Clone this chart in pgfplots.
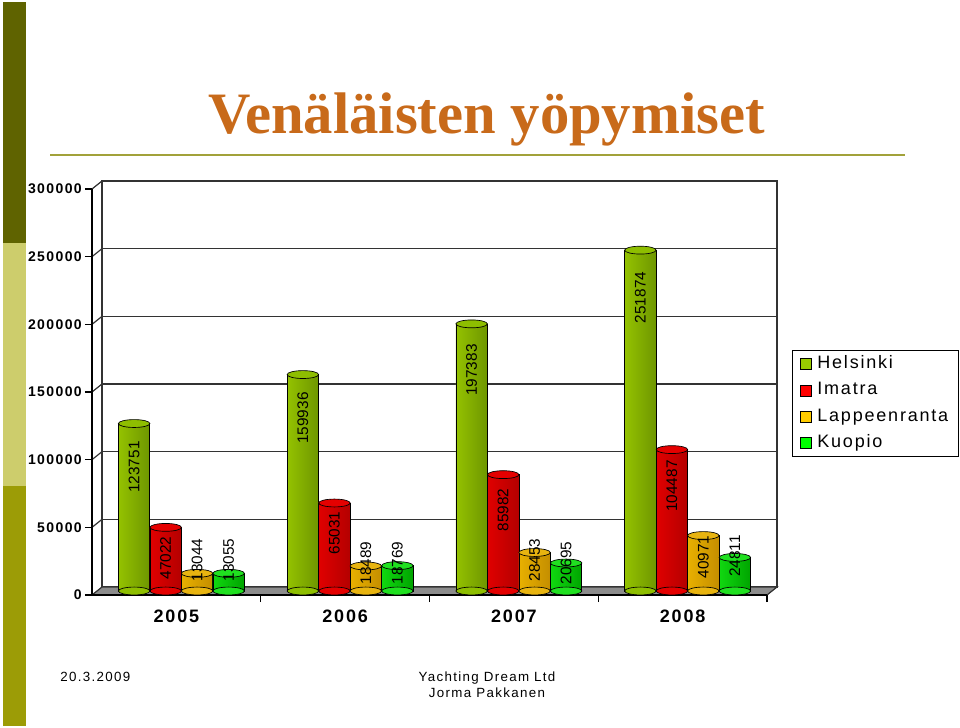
\documentclass[border=0pt]{standalone}
\usepackage{fontspec}
\usepackage{pgfplots}
\usepackage{pgfplotstable}
\pgfplotsset{compat=1.18}
\setmainfont{Liberation Sans}
\newfontfamily\titlefont{Liberation Serif}
\newfontfamily\spfont[LetterSpace=10]{Liberation Sans}

\definecolor{stripdark}{HTML}{5F6300}
\definecolor{striplight}{HTML}{CDCD6C}
\definecolor{stripmid}{HTML}{9C9C06}
\definecolor{titlecol}{HTML}{C86A1A}
\definecolor{titleline}{HTML}{A2A23A}
\definecolor{gridcol}{HTML}{333333}
\definecolor{floorgray}{HTML}{8C8C8C}
% Helsinki
\definecolor{helL}{HTML}{94C200}\definecolor{helM}{HTML}{B6DE18}\definecolor{helR}{HTML}{6E9600}\definecolor{helT}{HTML}{8EBE00}\definecolor{helG}{HTML}{99CC00}
% Imatra
\definecolor{imaL}{HTML}{E00000}\definecolor{imaM}{HTML}{FF3030}\definecolor{imaR}{HTML}{B40000}\definecolor{imaT}{HTML}{E40000}\definecolor{imaG}{HTML}{FF0000}
% Lappeenranta
\definecolor{lapL}{HTML}{E8B000}\definecolor{lapM}{HTML}{FFD840}\definecolor{lapR}{HTML}{C48E00}\definecolor{lapT}{HTML}{E8B410}\definecolor{lapG}{HTML}{FFCC00}
% Kuopio
\definecolor{kuoL}{HTML}{10D810}\definecolor{kuoM}{HTML}{50FF50}\definecolor{kuoR}{HTML}{00A400}\definecolor{kuoT}{HTML}{20E020}\definecolor{kuoG}{HTML}{00FF00}

\pgfplotstableread{
x      y       z  ly
-0.280 123751  0  91626
0.720  159936  0  127830
1.720  197383  0  163297
2.720  251874  0  216867
}\hel
\pgfplotstableread{
x      y       z  ly
-0.093 47022   0  24384
0.907  65031   0  42856
1.907  85982   0  59851
2.907  104487  0  77585
}\ima
\pgfplotstableread{
x      y       z  ly
0.093  13044   0  22906
1.093  18489   0  20689
2.093  28453   0  22906
3.093  40971   0  25123
}\lap
\pgfplotstableread{
x      y       z  ly
0.280  13055   0  22906
1.280  18769   0  20689
2.280  20695   0  20689
3.280  24811   0  25862
}\kuo

\newcommand{\tickf}{\spfont\bfseries\fontsize{10.5}{12}\selectfont}
\newcommand{\catf}{\spfont\bfseries\fontsize{13.5}{15}\selectfont}
\newcommand{\legf}{\spfont\fontsize{13.5}{15}\selectfont}
\newcommand{\lblf}{\fontsize{11.5}{13}\selectfont}
\newcommand{\footf}{\spfont\fontsize{10}{12}\selectfont}

\pgfplotsset{
  cyl/.style n args={3}{forget plot, ybar, bar width=0.186, bar shift=0pt,
     draw=black, line width=0.5pt, left color=#1, middle color=#2, right color=#3},
  cap/.style={forget plot, only marks, mark=*, mark size=11.8pt,
     mark options={yscale=0.25, fill=#1, draw=black, line width=0.5pt}},
  lbl/.style={forget plot, draw=none, no markers, nodes near coords,
     point meta=explicit symbolic,
     nodes near coords style={rotate=90, anchor=center, inner sep=0pt, font=\lblf, text=black}},
  panel/.style={anchor=south west, scale only axis,
     width=506.25pt, height=304.5pt, xmin=-0.5, xmax=3.5, ymin=0, ymax=300000,
     scaled y ticks=false},
}
% one shaded cylinder body per group, so that each bar gets its own shading
\newcommand{\cylbars}[4]{%
  \addplot[cyl={#2}{#3}{#4}, restrict x to domain=-0.5:0.5] table[x=x,y=y] #1;
  \addplot[cyl={#2}{#3}{#4}, restrict x to domain=0.5:1.5] table[x=x,y=y] #1;
  \addplot[cyl={#2}{#3}{#4}, restrict x to domain=1.5:2.5] table[x=x,y=y] #1;
  \addplot[cyl={#2}{#3}{#4}, restrict x to domain=2.5:3.5] table[x=x,y=y] #1;
}

\begin{document}
\begin{tikzpicture}[x=0.75pt,y=-0.75pt]
\useasboundingbox (0,0) rectangle (960,728);
% left strip
\fill[stripdark] (3,2) rectangle (26,243);
\fill[striplight] (3,243) rectangle (26,486);
\fill[stripmid] (3,486) rectangle (26,726);
% title
\node[anchor=base, text=titlecol, inner sep=0pt, font=\titlefont\bfseries\fontsize{44}{50}\selectfont] at (486.5,133) {Venäläisten yöpymiset};
\draw[titleline, line width=1.5pt] (50,155) -- (905,155);

% back wall
\begin{axis}[panel, at={(76.5pt,-440.25pt)},
  xtick=\empty, ytick={50000,100000,150000,200000,250000}, yticklabels={},
  major tick length=0pt, ymajorgrids, grid style={gridcol, line width=0.9pt},
  axis line style={gridcol, line width=0.9pt}]
\end{axis}

% floor and connectors
\draw[gridcol, line width=0.9pt, fill=floorgray] (92,595) -- (767,595) -- (777,587) -- (102,587) -- cycle;
\foreach \i in {1,...,6} \draw[gridcol, line width=0.9pt] (92,{595-\i*67.667}) -- (102,{587-\i*67.667});

% front axis
\begin{axis}[panel, at={(69pt,-446.25pt)},
  axis x line*=bottom, axis y line*=left,
  axis line style={-, black, line width=0.9pt},
  tick style={black, line width=0.9pt}, tick align=outside, major tick length=5.25pt,
  ytick={0,50000,100000,150000,200000,250000,300000},
  yticklabels={0,50000,100000,150000,200000,250000,300000},
  yticklabel style={font=\tickf, inner sep=0pt, xshift=-2.25pt},
  xtick={0.5,1.5,2.5,3.5}, xticklabels={},
  extra x ticks={0,1,2,3}, extra x tick labels={2005,2006,2007,2008},
  extra x tick style={major tick length=0pt,
     xticklabel style={font=\catf, inner sep=0pt, yshift=-11.25pt}}]
\end{axis}

% bars
\begin{axis}[panel, at={(72.75pt,-443.25pt)},
  hide axis, clip=false,
  legend cell align=left,
  legend image code/.code={\draw[#1, draw=black, line width=0.4pt] (0pt,-4.125pt) rectangle (8.25pt,4.125pt);},
  legend style={at={(1.0296,0.5936)}, anchor=north west, draw=black, line width=0.75pt,
     fill=white, font=\legf, inner xsep=6pt, inner ysep=2.5pt, row sep=4pt,
     nodes={inner sep=1.5pt, text height=9.7pt, text depth=2.9pt},
     /tikz/every odd column/.append style={column sep=2.5pt}}]
% Helsinki
\addplot[cap=helT] table[x=x,y=z] \hel;
\cylbars{\hel}{helL}{helM}{helR}
\addplot[cap=helT] table[x=x,y=y] \hel;
% Imatra
\addplot[cap=imaT] table[x=x,y=z] \ima;
\cylbars{\ima}{imaL}{imaM}{imaR}
\addplot[cap=imaT] table[x=x,y=y] \ima;
% Lappeenranta
\addplot[cap=lapT] table[x=x,y=z] \lap;
\cylbars{\lap}{lapL}{lapM}{lapR}
\addplot[cap=lapT] table[x=x,y=y] \lap;
% Kuopio
\addplot[cap=kuoT] table[x=x,y=z] \kuo;
\cylbars{\kuo}{kuoL}{kuoM}{kuoR}
\addplot[cap=kuoT] table[x=x,y=y] \kuo;
% labels
\addplot[lbl] table[x=x,y=ly,meta=y] \hel;
\addplot[lbl] table[x=x,y=ly,meta=y] \ima;
\addplot[lbl] table[x=x,y=ly,meta=y] \lap;
\addplot[lbl] table[x=x,y=ly,meta=y] \kuo;
% legend
\addlegendimage{fill=helG}\addlegendentry{Helsinki}
\addlegendimage{fill=imaG}\addlegendentry{Imatra}
\addlegendimage{fill=lapG}\addlegendentry{Lappeenranta}
\addlegendimage{fill=kuoG}\addlegendentry{Kuopio}
\end{axis}

% footer
\node[anchor=base west, inner sep=0pt, font=\footf] at (60,681) {20.3.2009};
\node[anchor=base, inner sep=0pt, font=\footf] at (487,681) {Yachting Dream Ltd};
\node[anchor=base, inner sep=0pt, font=\footf] at (487,697) {Jorma Pakkanen};
\end{tikzpicture}
\end{document}
